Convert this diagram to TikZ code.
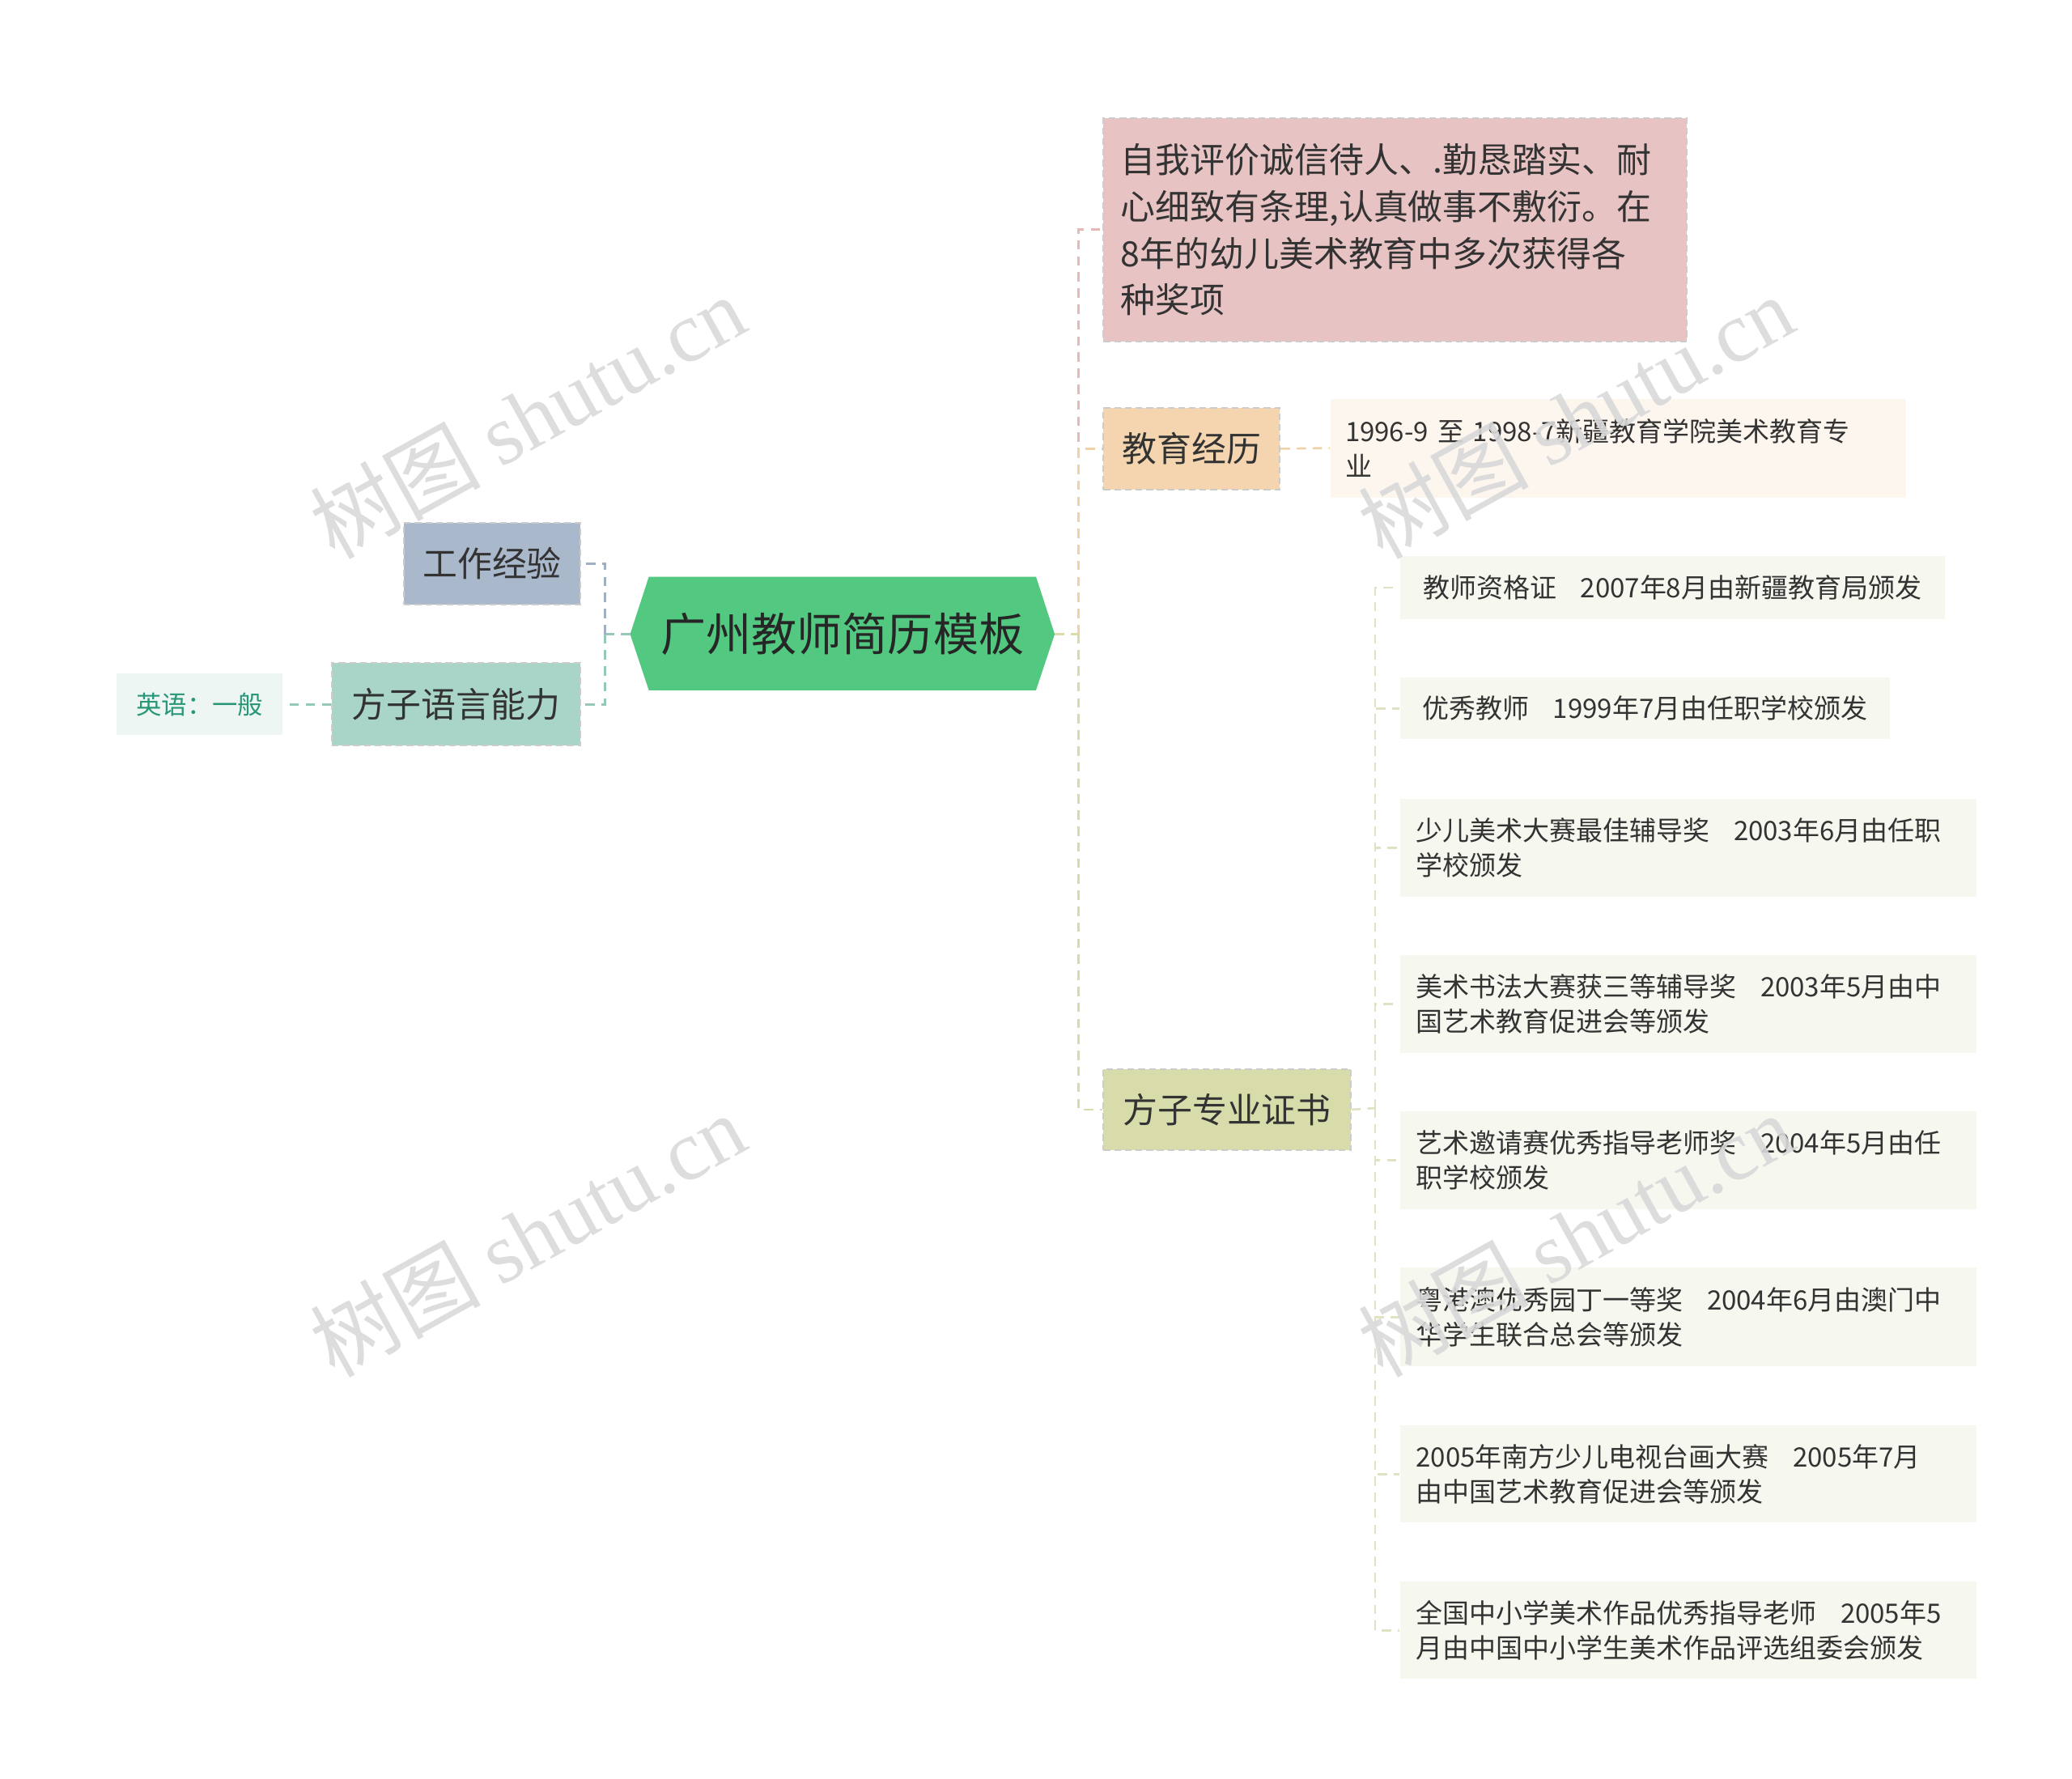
\documentclass[tikz,border=0pt]{standalone}
\usepackage{fontspec}
\setmainfont{Noto Sans CJK SC}
\newfontfamily\wmserif{Liberation Serif}
\begin{document}
\begin{tikzpicture}[x=1pt,y=-1pt,
 box/.style={draw=white!80!black,dash pattern=on 5pt off 3pt,line width=1.2pt,inner sep=0pt,anchor=north west,align=left,text=black!80},
 lnk/.style={dash pattern=on 7pt off 5pt,line width=1.6pt},
 wm/.style={text=black!15,opacity=0.9,font=\fontsize{64}{66}\selectfont,rotate=29}]
\useasboundingbox (0,0) rectangle (1552,1332);
% central
\fill[fill={rgb,255:red,82;green,200;blue,128}] (472,475)--(486,432)--(776,432)--(790,475)--(776,517)--(486,517)--cycle;
\node[font=\fontsize{34}{40}\selectfont,text=black!85] (c) at (631,475) {广州教师简历模板};
\coordinate (cl) at (472,475); \coordinate (cr) at (790,475);
% left
\node[box,fill={rgb,255:red,170;green,184;blue,203},minimum width=132,minimum height=61,font=\fontsize{26}{30}\selectfont,align=center] (gz) at (302,391) {工作经验};
\node[box,fill={rgb,255:red,168;green,213;blue,200},minimum width=186,minimum height=62,font=\fontsize{26}{30}\selectfont,align=center] (fy) at (248,496) {方子语言能力};
\node[box,draw=none,fill={rgb,255:red,238;green,246;blue,243},minimum width=124,minimum height=46,font=\fontsize{19}{24}\selectfont,align=center,text={rgb,255:red,40;green,150;blue,120}] (yy) at (87,504) {英语：一般};
\draw[lnk,draw={rgb,255:red,150;green,200;blue,185}] (cl) -- (453,475);
\draw[lnk,draw={rgb,255:red,160;green,175;blue,195}] (453,475) |- (gz.east);
\draw[lnk,draw={rgb,255:red,150;green,200;blue,185}] (453,475) |- (fy.east);
\draw[lnk,draw={rgb,255:red,150;green,200;blue,185}] (fy.west) -- (yy.east);
% right level 1
\node[box,fill={rgb,255:red,232;green,195;blue,195},minimum width=437,minimum height=167,text width=411,inner xsep=13,font=\fontsize{26}{35}\selectfont] (zw) at (826,88) {自我评价诚信待人、.勤恳踏实、耐\\心细致有条理,认真做事不敷衍。在\\8年的幼儿美术教育中多次获得各\\种奖项};
\node[box,fill={rgb,255:red,244;green,213;blue,176},minimum width=132,minimum height=61,font=\fontsize{26}{30}\selectfont,align=center] (jy) at (826,305) {教育经历};
\node[box,fill={rgb,255:red,216;green,220;blue,170},minimum width=185,minimum height=61,font=\fontsize{26}{30}\selectfont,align=center] (zs) at (826,800) {方子专业证书};
\draw[lnk,draw={rgb,255:red,220;green,220;blue,170}] (cr) -- (808,475);
\draw[lnk,draw={rgb,255:red,230;green,185;blue,185}] (808,475) |- (826,172);
\draw[lnk,draw={rgb,255:red,240;green,210;blue,170}] (808,475) |- (jy.west);
\draw[lnk,draw={rgb,255:red,215;green,218;blue,170}] (808,475) |- (zs.west);
% education child
\node[box,draw=none,fill={rgb,255:red,253;green,246;blue,239},minimum width=431,minimum height=74,text width=409,inner xsep=11,font=\fontsize{20}{26}\selectfont] (e1) at (996,298) {1996-9 至 1998-7新疆教育学院美术教育专\\业};
\draw[lnk,draw={rgb,255:red,240;green,210;blue,170}] (jy.east) -- (e1.west);
% certs
\tikzset{cert/.style={box,draw=none,fill={rgb,255:red,246;green,247;blue,239},inner xsep=12,font=\fontsize{20}{26}\selectfont}}
\node[cert,minimum width=408,minimum height=47] (k1) at (1048,416) {教师资格证\hspace{18pt}2007年8月由新疆教育局颁发};
\node[cert,minimum width=367,minimum height=46] (k2) at (1048,507) {优秀教师\hspace{18pt}1999年7月由任职学校颁发};
\node[cert,minimum width=432,minimum height=73,text width=408] (k3) at (1048,598) {少儿美术大赛最佳辅导奖\hspace{18pt}2003年6月由任职\\学校颁发};
\node[cert,minimum width=432,minimum height=73,text width=408] (k4) at (1048,715) {美术书法大赛获三等辅导奖\hspace{18pt}2003年5月由中\\国艺术教育促进会等颁发};
\node[cert,minimum width=432,minimum height=73,text width=408] (k5) at (1048,832) {艺术邀请赛优秀指导老师奖\hspace{18pt}2004年5月由任\\职学校颁发};
\node[cert,minimum width=432,minimum height=74,text width=408] (k6) at (1048,949) {粤港澳优秀园丁一等奖\hspace{18pt}2004年6月由澳门中\\华学生联合总会等颁发};
\node[cert,minimum width=432,minimum height=73,text width=408] (k7) at (1048,1067) {2005年南方少儿电视台画大赛\hspace{18pt}2005年7月\\由中国艺术教育促进会等颁发};
\node[cert,minimum width=432,minimum height=73,text width=408] (k8) at (1048,1184) {全国中小学美术作品优秀指导老师\hspace{18pt}2005年5\\月由中国中小学生美术作品评选组委会颁发};
\draw[lnk,draw={rgb,255:red,225;green,225;blue,195}] (zs.east) -- (1030,830);
\foreach \k in {k1,k2,k3,k4,k5,k6,k7,k8}
  \draw[lnk,draw={rgb,255:red,225;green,225;blue,195}] (1030,830) |- (\k.west);
% watermarks on top
\node[wm] (w1) at (395,312) {树图 {\wmserif shutu.cn}};
\node[wm] (w2) at (1180,312) {树图 {\wmserif shutu.cn}};
\node[wm] (w3) at (395,925) {树图 {\wmserif shutu.cn}};
\node[wm] (w4) at (1180,925) {树图 {\wmserif shutu.cn}};
\end{tikzpicture}
\end{document}
